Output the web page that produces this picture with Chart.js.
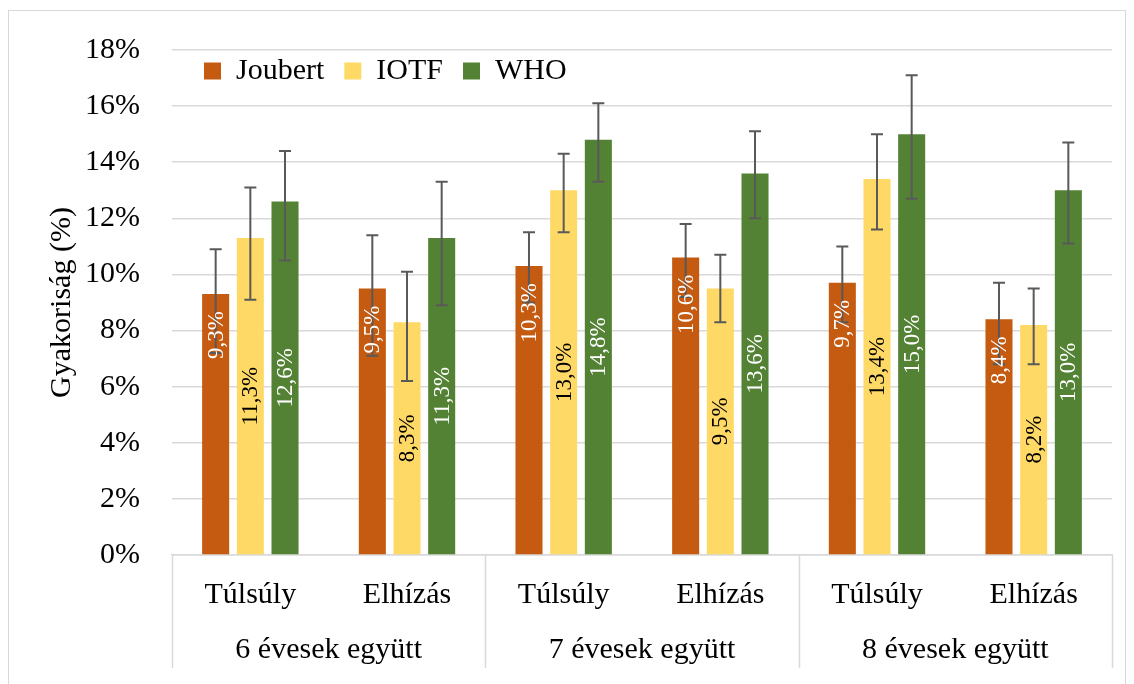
<!DOCTYPE html>
<html>
<head>
<meta charset="utf-8">
<script src="https://cdn.jsdelivr.net/npm/chart.js@4"></script>
<style>
  html, body { margin: 0; padding: 0; background: #fff; }
  #wrap { position: relative; width: 1134px; height: 684px; overflow: hidden; }
  #frame { position: absolute; left: 8px; top: 10px; width: 1118px; height: 700px; border: 1px solid #d9d9d9; box-sizing: border-box; }
  canvas { position: absolute; left: 0; top: 0; }
</style>
</head>
<body>
<div id="wrap">
  <div id="frame"></div>
  <canvas id="chart" width="1134" height="684"></canvas>
</div>
<script>
// Kategóriák
const categories = ["Túlsúly", "Elhízás", "Túlsúly", "Elhízás", "Túlsúly", "Elhízás"];
const groups = ["6 évesek együtt", "7 évesek együtt", "8 évesek együtt"];

// Gyakoriság (%)
const joubert = [9.3, 9.5, 10.3, 10.6, 9.7, 8.4];
const iotf = [11.3, 8.3, 13.0, 9.5, 13.4, 8.2];
const who = [12.6, 11.3, 14.8, 13.6, 15.0, 13.0];

// Hibasávok (alsó / felső határ)
const joubertLow = [7.2, 7.1, 9.0, 9.2, 8.3, 6.8];
const joubertHigh = [10.9, 11.4, 11.5, 11.8, 11.0, 9.7];
const iotfLow = [9.1, 6.2, 11.5, 8.3, 11.6, 6.8];
const iotfHigh = [13.1, 10.1, 14.3, 10.7, 15.0, 9.5];
const whoLow = [10.5, 8.9, 13.3, 12.0, 12.7, 11.1];
const whoHigh = [14.4, 13.3, 16.1, 15.1, 17.1, 14.7];

const yTicks = [0, 2, 4, 6, 8, 10, 12, 14, 16, 18];

const FONT = "'Liberation Serif', 'Times New Roman', serif";

// hibasávok rajzolása
const errorBars = {
  id: "errorBars",
  afterDatasetsDraw(chart) {
    const ctx = chart.ctx;
    const y = chart.scales.y;
    ctx.save();
    ctx.strokeStyle = "#595959";
    ctx.lineWidth = 2;
    chart.data.datasets.forEach((ds, i) => {
      const meta = chart.getDatasetMeta(i);
      meta.data.forEach((bar, j) => {
        const top = y.getPixelForValue(ds.high[j]);
        const bot = y.getPixelForValue(ds.low[j]);
        ctx.beginPath();
        ctx.moveTo(bar.x, top); ctx.lineTo(bar.x, bot);
        ctx.moveTo(bar.x - 6, top); ctx.lineTo(bar.x + 6, top);
        ctx.moveTo(bar.x - 6, bot); ctx.lineTo(bar.x + 6, bot);
        ctx.stroke();
      });
    });
    ctx.restore();
  }
};

// adatcímkék (függőleges)
const barLabels = {
  id: "barLabels",
  afterDatasetsDraw(chart) {
    const ctx = chart.ctx;
    ctx.save();
    ctx.font = "23px " + FONT;
    ctx.textBaseline = "middle";
    chart.data.datasets.forEach((ds, i) => {
      const meta = chart.getDatasetMeta(i);
      meta.data.forEach((bar, j) => {
        const txt = ds.data[j].toFixed(1).replace(".", ",") + "%";
        ctx.save();
        ctx.fillStyle = ds.labelColor;
        if (ds.labelEnd) {
          ctx.translate(bar.x, bar.y + 17);
          ctx.rotate(-Math.PI / 2);
          ctx.textAlign = "right";
        } else {
          ctx.translate(bar.x, (bar.y + bar.base) / 2);
          ctx.rotate(-Math.PI / 2);
          ctx.textAlign = "center";
        }
        ctx.fillText(txt, 0, 1);
        ctx.restore();
      });
    });
    ctx.restore();
  }
};

// csoport elválasztó vonalak az x tengely alatt
const groupLines = {
  id: "groupLines",
  afterDraw(chart) {
    const ctx = chart.ctx;
    const x = chart.scales.x;
    const x2 = chart.scales.x2;
    const step = x.getPixelForValue(1) - x.getPixelForValue(0);
    ctx.save();
    ctx.strokeStyle = "#d9d9d9";
    ctx.lineWidth = 1.5;
    for (let i = 0; i <= categories.length; i += 2) {
      const px = Math.round(x.getPixelForValue(0) - step / 2 + i * step) + 0.5;
      ctx.beginPath();
      ctx.moveTo(px, chart.chartArea.bottom);
      ctx.lineTo(px, x2.bottom);
      ctx.stroke();
    }
    ctx.restore();
  }
};

// jelmagyarázat a rajzterületen belül
const legendInside = {
  id: "legendInside",
  afterInit(chart) {
    const lg = chart.legend;
    const fit = lg.fit.bind(lg);
    lg.fit = function () { fit(); this._h = this.height; this.height = 0; };
  },
  afterLayout(chart) {
    const lg = chart.legend;
    const a = chart.chartArea;
    lg.height = lg._h;
    lg.top = a.top - 14;
    lg.bottom = lg.top + lg._h;
    lg.left = a.left + 12;
    lg.right = a.right;
    lg.width = lg.right - lg.left;
  }
};

new Chart(document.getElementById("chart"), {
  type: "bar",
  data: {
    labels: categories,
    datasets: [
      { label: "Joubert", data: joubert, low: joubertLow, high: joubertHigh, backgroundColor: "#C55A11", labelColor: "#ffffff", labelEnd: true },
      { label: "IOTF", data: iotf, low: iotfLow, high: iotfHigh, backgroundColor: "#FFD966", labelColor: "#000000", labelEnd: false },
      { label: "WHO", data: who, low: whoLow, high: whoHigh, backgroundColor: "#548235", labelColor: "#ffffff", labelEnd: false }
    ]
  },
  options: {
    responsive: false,
    animation: false,
    datasets: { bar: { categoryPercentage: 0.664, barPercentage: 0.78, borderWidth: 0 } },
    layout: { padding: { left: 0, right: 22, top: 47, bottom: 16 } },
    plugins: {
      legend: {
        position: "top",
        align: "start",
        labels: { boxWidth: 17, boxHeight: 17, padding: 20, color: "#000", font: { family: FONT, size: 30 } }
      },
      tooltip: { enabled: false }
    },
    scales: {
      y: {
        min: 0, max: 18,
        afterBuildTicks: (s) => { s.ticks = yTicks.map(v => ({ value: v })); },
        afterFit: (s) => { s.width = 172; },
        ticks: { color: "#000", padding: 32, font: { family: FONT, size: 30 }, callback: (v) => v + "%" },
        grid: { color: "#d9d9d9", lineWidth: 1.5, drawTicks: false },
        border: { display: false },
        title: { display: true, text: "Gyakoriság (%)", color: "#000", font: { family: FONT, size: 30 }, padding: { top: 44, bottom: 0 } }
      },
      x: {
        afterFit: (s) => { s.height = 60; },
        ticks: { color: "#000", padding: 22, maxRotation: 0, font: { family: FONT, size: 30 } },
        grid: { display: false, drawTicks: false },
        border: { display: true, color: "#d9d9d9", width: 1.5 }
      },
      x2: {
        type: "category",
        position: "bottom",
        labels: groups,
        offset: true,
        afterFit: (s) => { s.height = 53; },
        ticks: { color: "#000", padding: 17, maxRotation: 0, font: { family: FONT, size: 30 } },
        grid: { display: false, drawTicks: false },
        border: { display: false }
      }
    }
  },
  plugins: [legendInside, errorBars, barLabels, groupLines]
});
</script>
</body>
</html>
